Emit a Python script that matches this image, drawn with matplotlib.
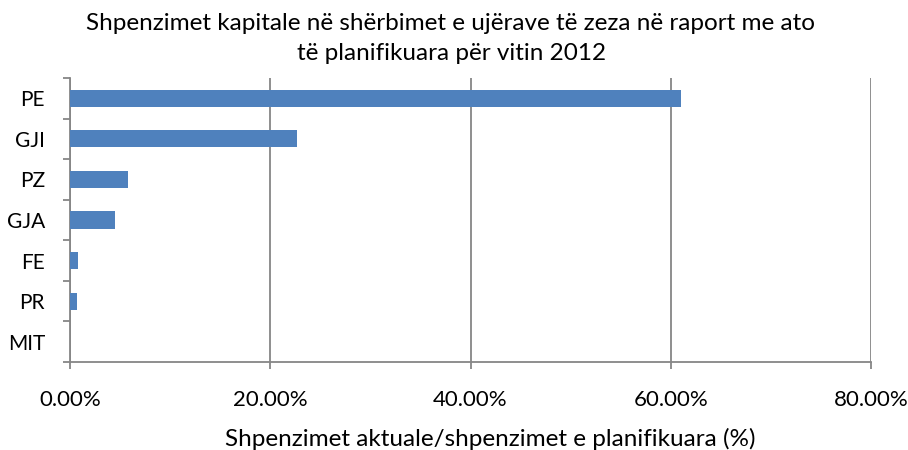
import matplotlib
matplotlib.use("Agg")
import matplotlib.pyplot as plt
from matplotlib.ticker import FixedLocator, PercentFormatter

plt.rcParams["font.family"] = ["Lato", "DejaVu Sans"]

# Data (top to bottom)
categories = ["PE", "GJI", "PZ", "GJA", "FE", "PR", "MIT"]
values = [61.0, 22.7, 5.75, 4.5, 0.75, 0.65, 0.0]

title_lines = ["Shpenzimet kapitale në shërbimet e ujërave të zeza në raport me ato",
               "të planifikuara për vitin 2012"]
xlabel = "Shpenzimet aktuale/shpenzimet e planifikuara (%)"

axis_grey = "#868686"
bar_blue = "#4f81bd"

fig = plt.figure(figsize=(9.08, 4.5), dpi=100)
ax = fig.add_axes([70 / 908, 1 - 362 / 450, 801 / 908, 284 / 450])

y = list(range(len(categories)))
ax.barh(y, values, height=0.42, color=bar_blue, zorder=3)

ax.set_xlim(0, 80)
ax.set_ylim(len(categories) - 0.5, -0.5)

ax.xaxis.set_major_locator(FixedLocator([0, 20, 40, 60, 80]))
ax.xaxis.set_major_formatter(PercentFormatter(decimals=2))
ax.grid(axis="x", color=axis_grey, linewidth=1.3, zorder=0)

ax.set_yticks(y)
ax.set_yticklabels(categories)
ax.set_yticks([i - 0.5 for i in range(len(categories) + 1)], minor=True)
ax.tick_params(axis="y", which="major", length=0, pad=18, labelsize=15)
ax.tick_params(axis="y", which="minor", length=5, width=1.3, color=axis_grey)
ax.tick_params(axis="x", length=5, width=1.3, color=axis_grey, pad=15, labelsize=16)

for side in ["top", "right"]:
    ax.spines[side].set_visible(False)
for side in ["left", "bottom"]:
    ax.spines[side].set_color(axis_grey)
    ax.spines[side].set_linewidth(1.3)

# title and axis label placed as figure text (baselines)
fig.text(450 / 908, 1 - 30 / 450, title_lines[0], ha="center", va="baseline", fontsize=17.5)
fig.text(452 / 908, 1 - 60 / 450, title_lines[1], ha="center", va="baseline", fontsize=17.5)
fig.text(490 / 908, 1 - 446 / 450, xlabel, ha="center", va="baseline", fontsize=17.5)

fig.savefig("out.png", dpi=100)
